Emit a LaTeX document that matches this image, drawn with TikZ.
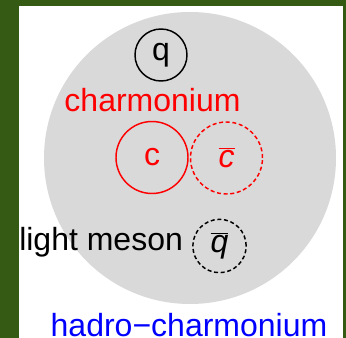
\documentclass[tikz,border=0pt]{standalone}
\usepackage{fontspec}
\setmainfont{Liberation Sans}
\usetikzlibrary{positioning}
\definecolor{moss}{HTML}{355A14}
\definecolor{cloud}{HTML}{D9D9D9}
\definecolor{charm}{HTML}{FF0000}
\definecolor{hadro}{HTML}{0000FF}

\tikzset{
  quark/.style={circle, draw, line width=1.1pt, inner sep=0pt, minimum size=39pt},
  heavy/.style={quark, draw=charm, text=charm, minimum size=54pt},
  anti/.style={dash pattern=on 3pt off 2pt}
}

\begin{document}
\begin{tikzpicture}[x=0.75pt, y=-0.75pt, font=\fontsize{24}{28}\selectfont]
  \useasboundingbox (0,0) rectangle (346,338);
  \fill[moss] (0,0) rectangle (346,338);
  \fill[white] (19,6) rectangle (343,338);
  \fill[cloud] (190,158) circle [radius=109.5pt];
  % light quark on top
  \node[quark] (q) at (161,55) {q};
  \node[anchor=base, text=charm] (charmlabel) at (152.5,111.5) {charmonium};
  % charm pair
  \node[heavy] (c) at (152,157.5) {c};
  \node[heavy, anti] (cbar) at (226.5,158) {$\overline{\mbox{\itshape c}}$};
  % light antiquark
  \node[quark, anti, minimum size=40pt] (qbar) at (219.5,246) {$\overline{\mbox{\itshape q}}$};
  \node[anchor=base west, inner sep=0pt] (mesonlabel) at (19,251) {light meson};
  \node[anchor=base, text=hadro, inner sep=0pt] (hadrolabel) at (189,336) {hadro−charmonium};
\end{tikzpicture}
\end{document}
